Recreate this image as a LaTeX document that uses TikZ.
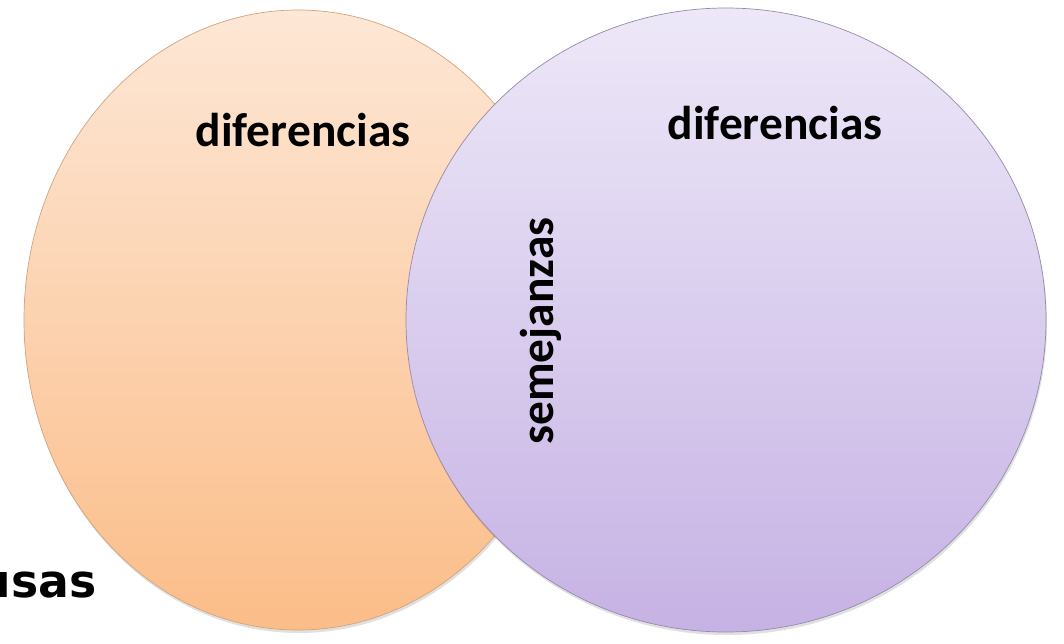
\documentclass[tikz,border=0pt]{standalone}
\usepackage{fontspec}
\setmainfont{Carlito}
\newfontfamily\verdfont{DejaVu Sans}
\usepackage{tikz}
\usetikzlibrary{positioning}
\usepackage{xcolor}

\definecolor{orangetop}{HTML}{FDE7D6}
\definecolor{orangebot}{HTML}{FBBD88}
\definecolor{orangeline}{HTML}{D3A47C}
\definecolor{purpletop}{HTML}{EDE8F8}
\definecolor{purplebot}{HTML}{C6B2E4}
\definecolor{purpleline}{HTML}{968AAA}

\tikzset{
  setlabel/.style={font=\fontsize{27}{30}\selectfont\bfseries, text=black, inner sep=0pt},
  setshadow/.style={fill=black, opacity=0.12},
}

\begin{document}
\begin{tikzpicture}[x=0.02cm,y=-0.02cm]
				\useasboundingbox (0,0) rectangle (1064,643);
				\fill[setshadow] (299,323) ellipse (274 and 310);
				\shade[top color=orangetop, bottom color=orangebot, draw=orangeline, thin] (298,320) ellipse (274 and 310);
				\fill[setshadow] (727,323) ellipse (320 and 312);
				\shade[top color=purpletop, bottom color=purplebot, draw=purpleline, thin] (726,320) ellipse (320 and 312);
				\node[setlabel] (difleft) at (303,130) {diferencias};
				\node[setlabel] (difright) at (775,123) {diferencias};
				\node[setlabel, rotate=90] (semejanzas) at (541,331) {semejanzas};
				\node[font=\verdfont\fontsize{26}{30}\selectfont\bfseries, anchor=base east, inner sep=0pt] (causas) at (97,597) {usas};
			\end{tikzpicture}
\end{document}
